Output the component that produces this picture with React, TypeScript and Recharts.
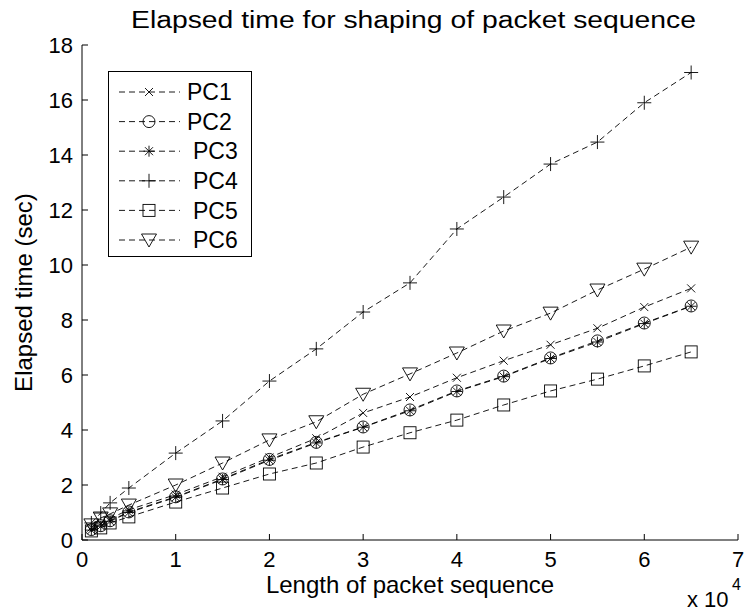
import { LineChart, Line, XAxis, YAxis, Legend } from "recharts";

// packet sequence lengths (x axis)
const xValues = [1000, 2000, 3000, 5000, 10000, 15000, 20000, 25000, 30000, 35000, 40000, 45000, 50000, 55000, 60000, 65000];

// elapsed times in seconds
const pc1 = [0.45, 0.6, 0.78, 1.1, 1.65, 2.3, 3.0, 3.7, 4.62, 5.2, 5.9, 6.52, 7.1, 7.7, 8.47, 9.15];
const pc2 = [0.38, 0.52, 0.7, 1.02, 1.57, 2.22, 2.93, 3.55, 4.11, 4.73, 5.42, 5.96, 6.62, 7.24, 7.89, 8.51];
const pc3 = [0.36, 0.5, 0.68, 1.0, 1.55, 2.2, 2.9, 3.53, 4.1, 4.7, 5.4, 5.94, 6.6, 7.2, 7.87, 8.5];
const pc4 = [0.62, 0.98, 1.35, 1.89, 3.16, 4.33, 5.78, 6.95, 8.29, 9.35, 11.31, 12.47, 13.67, 14.47, 15.9, 17.0];
const pc5 = [0.33, 0.44, 0.62, 0.84, 1.38, 1.89, 2.4, 2.8, 3.38, 3.9, 4.36, 4.91, 5.42, 5.85, 6.33, 6.84];
const pc6 = [0.55, 0.8, 0.95, 1.27, 2.0, 2.8, 3.64, 4.3, 5.3, 6.04, 6.8, 7.6, 8.25, 9.09, 9.85, 10.65];

const xTicks = [0, 10000, 20000, 30000, 40000, 50000, 60000, 70000];
const yTicks = [0, 2, 4, 6, 8, 10, 12, 14, 16, 18];

const series = [
  { name: "PC1", values: pc1, shape: "x" },
  { name: "PC2", values: pc2, shape: "circle" },
  { name: "PC3", values: pc3, shape: "star" },
  { name: "PC4", values: pc4, shape: "plus" },
  { name: "PC5", values: pc5, shape: "square" },
  { name: "PC6", values: pc6, shape: "triangle" },
];

const data = xValues.map((x, i) => {
  const row: Record<string, number> = { x };
  series.forEach((s) => (row[s.name] = s.values[i]));
  return row;
});

const FONT = "'Liberation Sans', Arial, sans-serif";
const INK = "#000";

function Marker({ shape, cx, cy }: { shape: string; cx: number; cy: number }) {
  const p = { stroke: INK, strokeWidth: 0.9, fill: "none" };
  switch (shape) {
    case "x":
      return (
        <g {...p}>
          <line x1={cx - 4} y1={cy - 4} x2={cx + 4} y2={cy + 4} />
          <line x1={cx - 4} y1={cy + 4} x2={cx + 4} y2={cy - 4} />
        </g>
      );
    case "circle":
      return <circle cx={cx} cy={cy} r={6} {...p} />;
    case "star":
      return (
        <g {...p}>
          <line x1={cx} y1={cy - 5.5} x2={cx} y2={cy + 5.5} />
          <line x1={cx - 5.5} y1={cy} x2={cx + 5.5} y2={cy} />
          <line x1={cx - 4} y1={cy - 4} x2={cx + 4} y2={cy + 4} />
          <line x1={cx - 4} y1={cy + 4} x2={cx + 4} y2={cy - 4} />
        </g>
      );
    case "plus":
      return (
        <g {...p}>
          <line x1={cx} y1={cy - 7} x2={cx} y2={cy + 7} />
          <line x1={cx - 7} y1={cy} x2={cx + 7} y2={cy} />
        </g>
      );
    case "square":
      return <rect x={cx - 6} y={cy - 6} width={12} height={12} {...p} />;
    default:
      return (
        <polygon
          points={`${cx - 7.5},${cy - 6} ${cx + 7.5},${cy - 6} ${cx},${cy + 7}`}
          {...p}
        />
      );
  }
}

function LegendBox() {
  return (
    <svg width={144} height={186} style={{ display: "block" }}>
      <rect x={0.5} y={0.5} width={143} height={185} fill="#fff" stroke={INK} strokeWidth={1} />
      {series.map((s, i) => {
        const y = 21 + i * 29.6;
        return (
          <g key={s.name}>
            <line x1={11} y1={y} x2={72} y2={y} stroke={INK} strokeWidth={0.9} strokeDasharray="6 4" />
            <Marker shape={s.shape} cx={41} cy={y} />
            <text
              x={i < 2 ? 79 : 85}
              y={y}
              dy="0.36em"
              fontSize={23}
              fontFamily={FONT}
              fill={INK}
            >
              {s.name}
            </text>
          </g>
        );
      })}
    </svg>
  );
}

export default function App() {
  const tickStyle = { fill: INK, fontSize: 22, fontFamily: FONT };
  return (
    <div style={{ position: "absolute", left: 0, top: 0, width: 746, height: 612, background: "#fff" }}>
      <LineChart
        width={746}
        height={612}
        data={data}
        margin={{ top: 45, right: 8, bottom: 0, left: 0 }}
        style={{ fontFamily: FONT }}
      >
        <XAxis
          dataKey="x"
          type="number"
          domain={[0, 70000]}
          ticks={xTicks}
          tickFormatter={(v: number) => `${v / 10000}`}
          height={72}
          tickSize={-6}
          tickMargin={17}
          tick={tickStyle}
          axisLine={{ stroke: INK }}
          tickLine={{ stroke: INK }}
          label={{
            value: "Length of packet sequence",
            position: "insideBottom",
            offset: 19,
            style: { fill: INK, fontSize: 24, fontFamily: FONT },
          }}
        />
        <XAxis
          xAxisId="top"
          dataKey="x"
          type="number"
          orientation="top"
          domain={[0, 70000]}
          ticks={xTicks}
          height={0}
          tickSize={-6}
          tick={false}
          axisLine={{ stroke: INK }}
          tickLine={{ stroke: INK }}
        />
        <YAxis
          type="number"
          domain={[0, 18]}
          ticks={yTicks}
          width={82}
          tickSize={-6}
          tickMargin={15}
          tick={tickStyle}
          axisLine={{ stroke: INK }}
          tickLine={{ stroke: INK }}
          label={{
            value: "Elapsed time (sec)",
            angle: -90,
            position: "insideLeft",
            offset: 23,
            style: { fill: INK, fontSize: 24, fontFamily: FONT, textAnchor: "middle" },
          }}
        />
        <YAxis
          yAxisId="right"
          type="number"
          orientation="right"
          domain={[0, 18]}
          ticks={yTicks}
          width={0}
          tickSize={-6}
          tick={false}
          axisLine={{ stroke: INK }}
          tickLine={{ stroke: INK }}
        />
        <Legend
          layout="vertical"
          align="center"
          verticalAlign="middle"
          content={() => <LegendBox />}
          wrapperStyle={{ left: 108, top: 71, width: 144, height: 186 }}
        />
        {series.map((s) => (
          <Line
            key={s.name}
            dataKey={s.name}
            type="linear"
            stroke={INK}
            strokeWidth={0.9}
            strokeDasharray="6 4"
            isAnimationActive={false}
            dot={(p: any) => (
              <Marker key={`${s.name}-${p.index}`} shape={s.shape} cx={p.cx} cy={p.cy} />
            )}
            activeDot={false}
          />
        ))}
      </LineChart>
      <svg
        width={746}
        height={612}
        style={{ position: "absolute", left: 0, top: 0, pointerEvents: "none" }}
      >
        <text
          x={131}
          y={28}
          fontSize={23}
          fontFamily={FONT}
          fill={INK}
          textLength={565}
          lengthAdjust="spacingAndGlyphs"
        >
          Elapsed time for shaping of packet  sequence
        </text>
        <text x={687} y={607} fontSize={22} fontFamily={FONT} fill={INK}>
          x 10
        </text>
        <text x={732} y={590} fontSize={16} fontFamily={FONT} fill={INK}>
          4
        </text>
      </svg>
    </div>
  );
}
